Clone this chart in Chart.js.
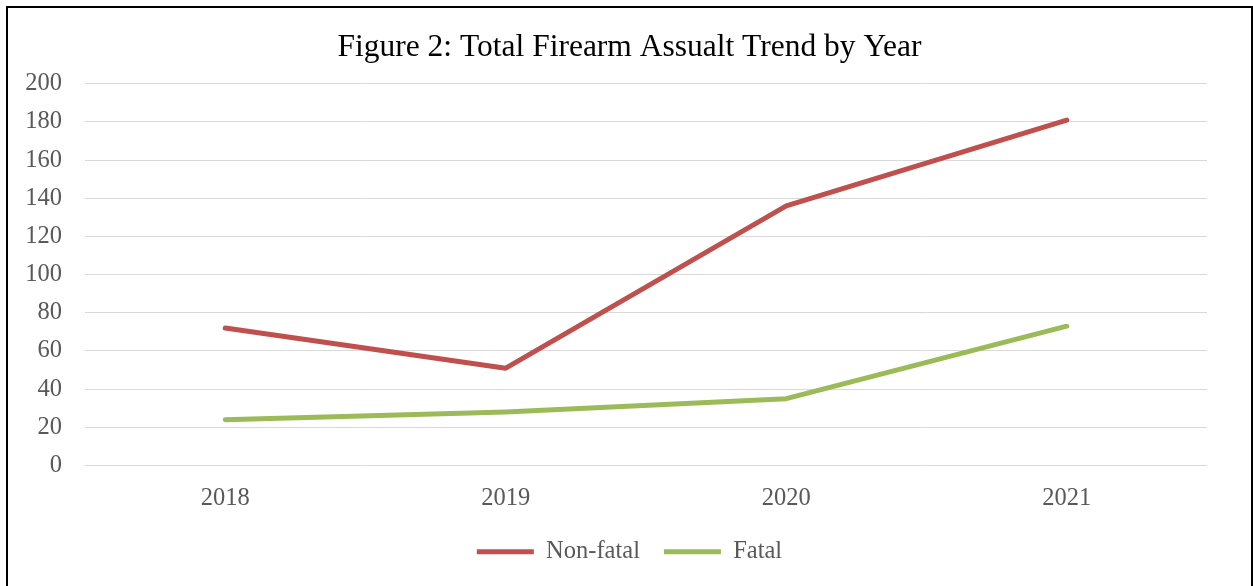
<!DOCTYPE html>
<html>
<head>
<meta charset="utf-8">
<script src="https://cdn.jsdelivr.net/npm/chart.js@4/dist/chart.umd.min.js"></script>
<style>
  html, body { margin: 0; padding: 0; background: #fff; overflow: hidden; }
  #frame { position: absolute; left: 6px; top: 6px; width: 1243px; height: 600px;
           border: 2px solid #000; border-bottom: none; }
  #wrap { position: absolute; left: 0; top: 0; width: 1243px; height: 578px; }
</style>
</head>
<body>
<div id="frame"><div id="wrap"><canvas id="c" width="1243" height="578"></canvas></div></div>
<script>
const categories = ['2018', '2019', '2020', '2021'];
const nonFatal = [72, 51, 136, 181];
const fatal = [24, 28, 35, 73];
const seriesNames = ['Non-fatal', 'Fatal'];
const titleText = 'Figure 2: Total Firearm Assualt Trend by Year';

const serif = '"Liberation Serif", "Times New Roman", serif';

new Chart(document.getElementById('c'), {
  type: 'line',
  data: {
    labels: categories,
    datasets: [
      { label: seriesNames[0], data: nonFatal, borderColor: '#C0504D', backgroundColor: '#C0504D',
        borderWidth: 5, pointRadius: 0, tension: 0, borderCapStyle: 'round', borderJoinStyle: 'round' },
      { label: seriesNames[1], data: fatal, borderColor: '#9BBB59', backgroundColor: '#9BBB59',
        borderWidth: 5, pointRadius: 0, tension: 0, borderCapStyle: 'round', borderJoinStyle: 'round' }
    ]
  },
  options: {
    responsive: false,
    animation: false,
    layout: { padding: { left: 0, right: 0, top: 0, bottom: 12 } },
    plugins: {
      tooltip: { enabled: false },
      title: {
        display: true, text: titleText, color: '#000',
        font: { family: serif, size: 31.5, weight: 'normal', lineHeight: 1.2 },
        padding: { top: 21, bottom: 17 }
      },
      legend: {
        position: 'bottom',
        labels: {
          usePointStyle: true, pointStyle: 'line', pointStyleWidth: 57,
          color: '#595959', padding: 24,
          font: { family: serif, size: 24.5 }
        }
      }
    },
    scales: {
      x: {
        offset: true,
        grid: { display: false, drawTicks: false },
        border: { display: false },
        ticks: { color: '#595959', padding: 18, font: { family: serif, size: 24.5 } },
        afterFit: (s) => { s.height = 50; }
      },
      y: {
        min: 0, max: 200,
        grid: { color: '#D9D9D9', lineWidth: 1, drawTicks: false },
        border: { display: false },
        ticks: { stepSize: 20, color: '#595959', padding: 23, font: { family: serif, size: 24.5 } },
        afterFit: (s) => { s.width = 77; }
      },
      yRight: {
        position: 'right',
        display: true,
        grid: { display: false, drawTicks: false },
        border: { display: false },
        ticks: { display: false },
        afterFit: (s) => { s.width = 44; }
      }
    }
  }
});
</script>
</body>
</html>
